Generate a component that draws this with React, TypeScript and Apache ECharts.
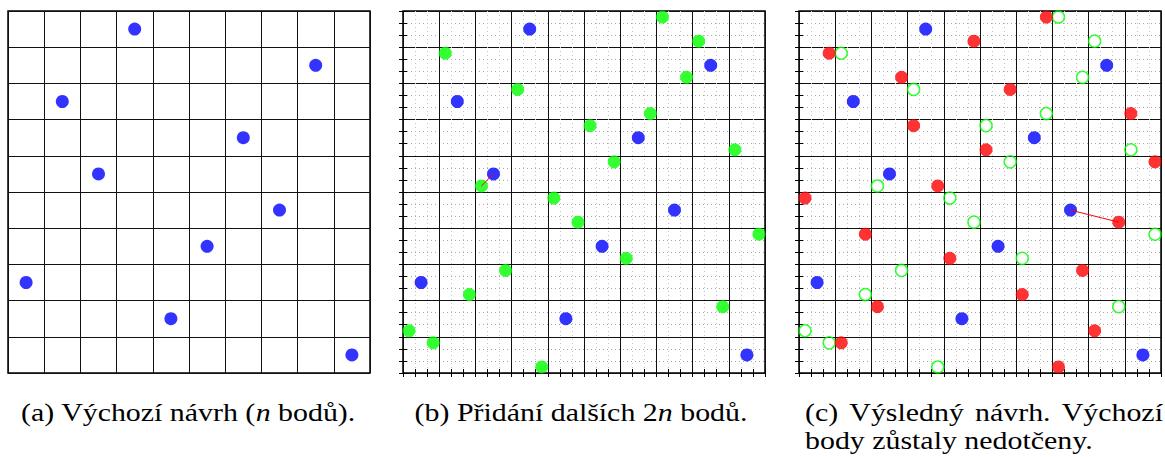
import React, { useEffect, useRef } from "react";
import * as echarts from "echarts";

// Coordinates are in fine-cell units of a 30 x 30 lattice (a 10 x 10 coarse grid, each cell split 3 x 3).
const INITIAL_POINTS: number[][] = [
  [10.5, 28.5], [25.5, 25.5], [4.5, 22.5], [19.5, 19.5], [7.5, 16.5],
  [22.5, 13.5], [16.5, 10.5], [1.5, 7.5], [13.5, 4.5], [28.5, 1.5],
];

const ADDED_POINTS: number[][] = [
  [21.5, 29.5], [24.5, 27.5], [3.5, 26.5], [23.5, 24.5], [9.5, 23.5],
  [20.5, 21.5], [15.5, 20.5], [27.5, 18.5], [17.5, 17.5], [6.5, 15.5],
  [12.5, 14.5], [14.5, 12.5], [29.5, 11.5], [18.5, 9.5], [8.5, 8.5],
  [5.5, 6.5], [26.5, 5.5], [0.5, 3.5], [2.5, 2.5], [11.5, 0.5],
];

const FINAL_POINTS: number[][] = [
  [20.5, 29.5], [14.5, 27.5], [2.5, 26.5], [8.5, 24.5], [17.5, 23.5],
  [27.5, 21.5], [9.5, 20.5], [15.5, 18.5], [29.5, 17.5], [11.5, 15.5],
  [0.5, 14.5], [26.5, 12.5], [5.5, 11.5], [12.5, 9.5], [23.5, 8.5],
  [18.5, 6.5], [6.5, 5.5], [24.5, 3.5], [3.5, 2.5], [21.5, 0.5],
];

// Short connectors between a point and its nearest neighbour.
const LINK_B: number[][] = [[6.5, 15.5], [7.5, 16.5]];
const LINK_C: number[][] = [[22.5, 13.5], [26.5, 12.5]];

const CAPTION_A = "(a) Výchozí návrh ({i|n} bodů).";
const CAPTION_B = "(b) Přidání dalších 2{i|n} bodů.";
const CAPTION_C_LINE1 = ["(c)", "Výsledný", "návrh.", "Výchozí"];
const CAPTION_C_LINE2 = "body zůstaly nedotčeny.";

const AXIS_MAX = 30;
const MAJOR = 3;

const BLUE = "#0000ff";
const GREEN = "#00ff00";
const RED = "#ff0000";

const PANEL_LEFT = [8, 403, 799];
const PANEL_TOP = 11;
const PANEL_SIZE = 362;

const FONT = "Liberation Serif";
const FONT_SIZE = 26;
const STRETCH = 1.15;

function measure(text: string): number {
  const ctx = document.createElement("canvas").getContext("2d");
  if (!ctx) return text.length * FONT_SIZE * 0.45;
  ctx.font = `${FONT_SIZE}px "${FONT}"`;
  return ctx.measureText(text).width * STRETCH;
}

function primaryAxis(gridIndex: number, fine: boolean, position: string, minorColor: string) {
  return {
    type: "value",
    gridIndex,
    position,
    min: 0,
    max: AXIS_MAX,
    interval: MAJOR,
    axisLabel: { show: false },
    axisLine: { show: false },
    axisTick: { show: fine, inside: true, length: 4, lineStyle: { color: "#000", width: 1 } },
    minorTick: { show: fine, splitNumber: 3, length: 4, lineStyle: { color: "#000", width: 1 } },
    splitLine: { show: true, lineStyle: { color: "#111", width: 1 } },
    minorSplitLine: { show: fine, lineStyle: { color: minorColor, width: 1, type: [1, 3] } },
  };
}

function tickAxis(gridIndex: number, position: string) {
  return {
    type: "value",
    gridIndex,
    position,
    min: 0,
    max: AXIS_MAX,
    interval: MAJOR,
    axisLabel: { show: false },
    axisLine: { show: false },
    axisTick: { show: true, inside: true, length: 4, lineStyle: { color: "#000", width: 1 } },
    minorTick: { show: true, splitNumber: 3, length: 4, lineStyle: { color: "#000", width: 1 } },
    splitLine: { show: false },
    minorSplitLine: { show: false },
  };
}

const filled = (color: string) => ({ color, borderWidth: 0 });
const hollow = { color: "rgba(0,0,0,0)", borderColor: GREEN, borderWidth: 1.5 };

export default function App() {
  const ref = useRef<HTMLDivElement>(null);

  useEffect(() => {
    if (!ref.current) return;
    const chart = echarts.init(ref.current, undefined, { renderer: "svg" });

    const grids = PANEL_LEFT.map((left) => ({
      left,
      top: PANEL_TOP,
      width: PANEL_SIZE,
      height: PANEL_SIZE,
      show: true,
      borderColor: "#000",
      borderWidth: 1.5,
      backgroundColor: "#fff",
      z: 0,
    }));

    const xAxes = [
      primaryAxis(0, false, "bottom", "#c4c4c4"),
      primaryAxis(1, true, "bottom", "#c4c4c4"),
      primaryAxis(2, true, "bottom", "#c4c4c4"),
      tickAxis(1, "top"),
      tickAxis(2, "top"),
    ];
    const yAxes = [
      primaryAxis(0, false, "left", "#a4a4a4"),
      primaryAxis(1, true, "left", "#a4a4a4"),
      primaryAxis(2, true, "left", "#a4a4a4"),
      tickAxis(1, "right"),
      tickAxis(2, "right"),
    ];

    const scatter = (idx: number, data: number[][], itemStyle: any, size = 13, z = 3) => ({
      type: "scatter",
      xAxisIndex: idx,
      yAxisIndex: idx,
      data,
      symbol: "circle",
      symbolSize: size,
      itemStyle,
      clip: false,
      z,
      silent: true,
    });

    const link = (idx: number, data: number[][]) => ({
      type: "line",
      xAxisIndex: idx,
      yAxisIndex: idx,
      data,
      symbol: "none",
      lineStyle: { color: RED, width: 1 },
      z: 6,
      silent: true,
    });

    const richItalic = {
      i: { fontStyle: "italic", fontFamily: FONT, fontSize: FONT_SIZE, fill: "#000" },
    };

    const caption = (text: string, x: number, y: number, align: string) => ({
      type: "text",
      x,
      y,
      scaleX: STRETCH,
      style: {
        text,
        fill: "#000",
        fontFamily: FONT,
        fontSize: FONT_SIZE,
        align,
        verticalAlign: "middle",
        rich: richItalic,
      },
    });

    const line1Y = 412;
    const line2Y = 440;

    // Justify the first caption line of panel (c) across the panel width.
    const cLeft = 805;
    const cRight = 1163;
    const widths = CAPTION_C_LINE1.map(measure);
    const gap = (cRight - cLeft - widths.reduce((a, b) => a + b, 0)) / (CAPTION_C_LINE1.length - 1);
    let cursor = cLeft;
    const line1 = CAPTION_C_LINE1.map((word, k) => {
      const el = caption(word, cursor, line1Y, "left");
      cursor += widths[k] + gap;
      return el;
    });

    chart.setOption({
      animation: false,
      backgroundColor: "#fff",
      grid: grids,
      xAxis: xAxes,
      yAxis: yAxes,
      series: [
        scatter(0, INITIAL_POINTS, filled(BLUE)),
        scatter(1, ADDED_POINTS, filled(GREEN)),
        scatter(1, INITIAL_POINTS, filled(BLUE), 13, 4),
        link(1, LINK_B),
        scatter(2, ADDED_POINTS, hollow, 12),
        scatter(2, FINAL_POINTS, filled(RED), 13, 4),
        scatter(2, INITIAL_POINTS, filled(BLUE), 13, 5),
        link(2, LINK_C),
      ],
      graphic: [
        caption(CAPTION_A, 188, line1Y, "center"),
        caption(CAPTION_B, 581, line1Y, "center"),
        ...line1,
        caption(CAPTION_C_LINE2, cLeft, line2Y, "left"),
      ],
    });

    return () => chart.dispose();
  }, []);

  return (
    <div
      ref={ref}
      style={{ position: "absolute", left: 0, top: 0, width: 1165, height: 457, background: "#fff" }}
    />
  );
}
